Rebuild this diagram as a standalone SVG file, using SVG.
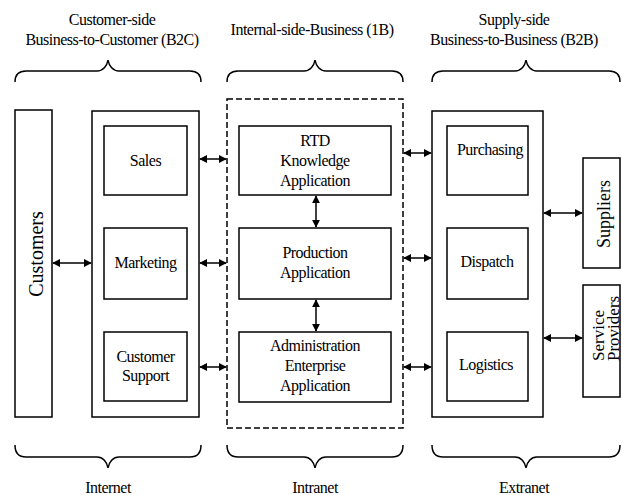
<svg xmlns="http://www.w3.org/2000/svg" width="622" height="495" viewBox="0 0 622 495">
<style>
text{font-family:"Liberation Serif","Times New Roman",serif;font-size:16px;letter-spacing:-0.5px;fill:#000;text-anchor:middle}
.box{fill:#fff;stroke:#000;stroke-width:1.5}
.dash{fill:none;stroke:#000;stroke-width:1.5;stroke-dasharray:6,3}
.brace{fill:none;stroke:#000;stroke-width:1.5}
.arr{stroke:#000;stroke-width:1.5;marker-start:url(#ah);marker-end:url(#ah)}
.big{font-size:20px;letter-spacing:0}
.side{font-size:18px;letter-spacing:0}
.sp{font-size:17px;letter-spacing:0;text-anchor:start}
</style>
<defs>
<marker id="ah" viewBox="0 0 10 10" refX="9" refY="5" markerWidth="8" markerHeight="8" markerUnits="userSpaceOnUse" orient="auto-start-reverse">
<path d="M0,0 L10,5 L0,10 z" fill="#000"/>
</marker>
</defs>

<g id="headers">
<text x="112" y="25">Customer-side</text>
<text x="112" y="45">Business-to-Customer (B2C)</text>
<text x="312" y="35">Internal-side-Business (1B)</text>
<text x="514" y="25">Supply-side</text>
<text x="514" y="45">Business-to-Business (B2B)</text>
</g>

<g id="braces">
<path class="brace" d="M15,82 Q15,71 26,71 L97,71 C103,71 107,66 108,60 C109,66 113,71 119,71 L190,71 Q201,71 201,82"/>
<path class="brace" d="M227,82 Q227,71 238,71 L304,71 C310,71 314,66 315,60 C316,66 320,71 326,71 L392,71 Q403,71 403,82"/>
<path class="brace" d="M432,82 Q432,71 443,71 L515,71 C521,71 525,66 526,60 C527,66 531,71 537,71 L609,71 Q620,71 620,82"/>
<path class="brace" d="M15,445 Q15,457 26,457 L97,457 C103,457 107,462 108,468 C109,462 113,457 119,457 L190,457 Q201,457 201,445"/>
<path class="brace" d="M227,445 Q227,457 238,457 L304,457 C310,457 314,462 315,468 C316,462 320,457 326,457 L392,457 Q403,457 403,445"/>
<path class="brace" d="M432,445 Q432,457 443,457 L515,457 C521,457 525,462 526,468 C527,462 531,457 537,457 L609,457 Q620,457 620,445"/>
</g>

<g id="footers">
<text x="108" y="493">Internet</text>
<text x="315" y="493">Intranet</text>
<text x="524" y="493">Extranet</text>
</g>

<g id="customers">
<rect class="box" x="15" y="110" width="37" height="307"/>
<text class="big" transform="translate(43,254) rotate(-90)">Customers</text>
</g>

<g id="b2c">
<rect class="box" x="92" y="111" width="107" height="306"/>
</g>
<g id="sales">
<rect class="box" x="104" y="126" width="83" height="69"/>
<text x="145.5" y="166">Sales</text>
</g>
<g id="marketing">
<rect class="box" x="104" y="228" width="83" height="71"/>
<text x="145.5" y="268">Marketing</text>
</g>
<g id="customer-support">
<rect class="box" x="104" y="332" width="83" height="69"/>
<text x="145.5" y="362">Customer</text>
<text x="145.5" y="381">Support</text>
</g>

<g id="intranet">
<rect class="dash" x="227" y="99" width="176" height="329"/>
</g>
<g id="rtd">
<rect class="box" x="239" y="126" width="152" height="69"/>
<text x="315" y="146">RTD</text>
<text x="315" y="166">Knowledge</text>
<text x="315" y="186">Application</text>
</g>
<g id="production">
<rect class="box" x="239" y="228" width="152" height="71"/>
<text x="315" y="258">Production</text>
<text x="315" y="278">Application</text>
</g>
<g id="administration">
<rect class="box" x="239" y="332" width="152" height="70"/>
<text x="315" y="351">Administration</text>
<text x="315" y="371">Enterprise</text>
<text x="315" y="391">Application</text>
</g>

<g id="b2b">
<rect class="box" x="432" y="111" width="111" height="306"/>
</g>
<g id="purchasing">
<rect class="box" x="447" y="126" width="81" height="69"/>
<text x="490" y="155">Purchasing</text>
</g>
<g id="dispatch">
<rect class="box" x="447" y="228" width="81" height="71"/>
<text x="487" y="267">Dispatch</text>
</g>
<g id="logistics">
<rect class="box" x="447" y="332" width="81" height="69"/>
<text x="486" y="370">Logistics</text>
</g>

<g id="suppliers">
<rect class="box" x="583" y="158" width="37" height="110"/>
<text class="side" transform="translate(610,214) rotate(-90)">Suppliers</text>
</g>
<g id="service-providers">
<rect class="box" x="583" y="285" width="37" height="112"/>
<text class="sp" transform="translate(604,361) rotate(-90)">Service</text>
<text class="sp" transform="translate(619,361) rotate(-90)">Providers</text>
</g>

<g id="connectors">
<line class="arr" x1="53" y1="263" x2="91" y2="263"/>
<line class="arr" x1="200" y1="159" x2="226" y2="159"/>
<line class="arr" x1="200" y1="263" x2="226" y2="263"/>
<line class="arr" x1="200" y1="367" x2="226" y2="367"/>
<line class="arr" x1="316" y1="196" x2="316" y2="227"/>
<line class="arr" x1="316" y1="300" x2="316" y2="331"/>
<line class="arr" x1="404" y1="153" x2="431" y2="153"/>
<line class="arr" x1="404" y1="258" x2="431" y2="258"/>
<line class="arr" x1="404" y1="367" x2="431" y2="367"/>
<line class="arr" x1="544" y1="213" x2="582" y2="213"/>
<line class="arr" x1="544" y1="338" x2="582" y2="338"/>
</g>
</svg>
